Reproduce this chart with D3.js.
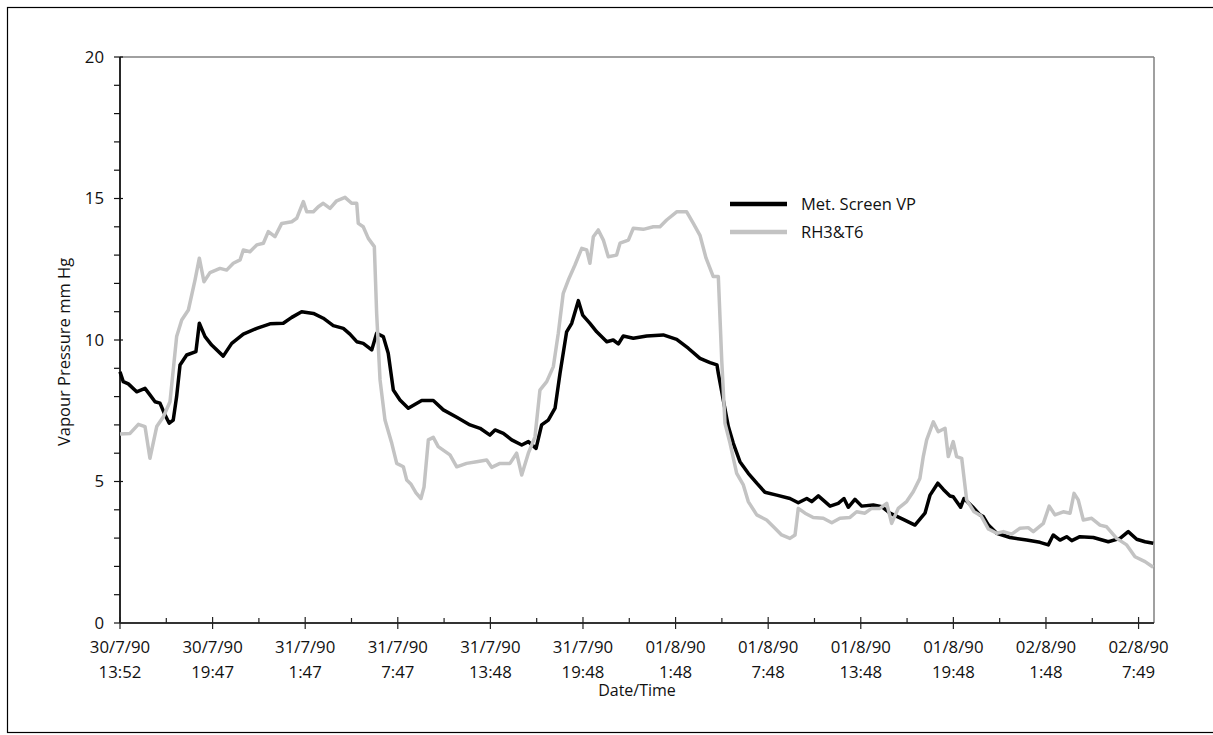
<!DOCTYPE html>
<html>
<head>
<meta charset="utf-8">
<script src="https://cdn.jsdelivr.net/npm/d3@7"></script>
<style>
  html, body { margin: 0; padding: 0; background: #fff; }
  svg { display: block; font-family: "Open Sans", "Noto Sans", sans-serif; }
</style>
</head>
<body>
<svg id="chart" width="1213" height="735"></svg>
<script>
// ---- Data (hours since 30/7/90 13:52, vapour pressure mm Hg) ----
const metHours = [0,0.21,0.54,1.08,1.62,1.94,2.27,2.59,2.92,3.19,3.45,3.67,3.89,4.32,4.92,5.14,5.51,5.94,6.69,7.24,7.99,8.86,9.72,10.58,11.13,11.77,12.53,13.17,13.82,14.47,14.90,15.34,15.76,16.31,16.63,17.06,17.38,17.71,18.14,18.68,19.55,20.30,20.95,21.82,22.68,23.33,23.97,24.30,24.84,25.38,26.03,26.46,26.96,27.32,27.75,28.19,28.51,28.94,29.27,29.70,29.98,30.45,30.89,31.54,31.96,32.29,32.61,33.26,34.13,35.20,36.07,36.82,37.58,38.23,38.68,38.77,39.09,39.42,39.74,40.17,40.71,41.26,41.79,42.55,43.41,43.95,44.50,44.82,45.25,46.01,46.54,46.91,47.19,47.62,48.06,48.81,49.36,49.89,50.75,51.51,52.16,52.49,52.99,53.35,53.78,53.99,54.47,54.69,55.24,55.72,55.94,56.27,56.81,57.67,58.75,59.61,60.15,60.47,60.91,61.34,61.67,62.20,63.07,64.04,64.80,65.33,65.88,66.42,66.95];
const metValues = [8.88,8.53,8.45,8.17,8.29,8.06,7.82,7.77,7.35,7.06,7.17,8.0,9.12,9.47,9.59,10.59,10.12,9.82,9.43,9.88,10.21,10.41,10.57,10.59,10.80,11.0,10.94,10.77,10.51,10.41,10.21,9.94,9.88,9.65,10.24,10.12,9.53,8.23,7.88,7.59,7.86,7.86,7.53,7.27,7.0,6.88,6.64,6.82,6.70,6.47,6.29,6.41,6.17,7.0,7.17,7.59,8.82,10.29,10.59,11.39,10.88,10.59,10.29,9.94,10.0,9.86,10.14,10.06,10.14,10.18,10.02,9.71,9.35,9.2,9.12,8.82,7.88,6.94,6.35,5.70,5.29,4.94,4.62,4.52,4.40,4.25,4.40,4.29,4.49,4.13,4.23,4.40,4.09,4.37,4.13,4.17,4.11,3.88,3.66,3.46,3.88,4.52,4.94,4.72,4.49,4.46,4.09,4.40,4.11,3.82,3.76,3.46,3.17,3.02,2.93,2.85,2.76,3.11,2.93,3.05,2.91,3.05,3.02,2.87,2.99,3.23,2.96,2.87,2.82];

const rhHours = [0,0.65,1.19,1.62,1.94,2.38,2.81,3.24,3.67,4.00,4.43,4.86,5.14,5.44,5.83,6.48,6.91,7.34,7.78,7.99,8.42,8.86,9.29,9.61,10.04,10.48,11.13,11.45,11.88,12.10,12.53,12.85,13.17,13.61,14.04,14.58,15.01,15.34,15.44,15.76,16.09,16.48,16.63,16.85,17.17,17.61,17.93,18.36,18.58,18.86,19.18,19.50,19.70,19.98,20.30,20.62,21.38,21.82,22.46,23.11,23.76,24.08,24.62,25.27,25.70,26.03,26.46,26.89,27.21,27.65,28.08,28.40,28.72,29.05,29.48,29.92,30.24,30.45,30.67,30.99,31.32,31.64,32.18,32.40,32.94,33.26,33.91,34.56,34.99,35.42,36.07,36.72,37.15,37.58,37.97,38.44,38.77,38.99,39.20,39.53,39.96,40.39,40.71,41.26,41.90,42.44,42.87,43.41,43.74,43.95,44.39,44.92,45.57,46.12,46.65,47.30,47.73,48.27,48.70,49.24,49.68,50.00,50.43,50.97,51.40,51.83,52.05,52.27,52.70,53.02,53.46,53.67,53.99,54.21,54.54,54.86,55.34,55.79,56.27,56.81,57.24,57.78,58.32,58.85,59.18,59.83,60.21,60.58,61.12,61.56,61.82,62.09,62.42,62.96,63.50,63.93,64.58,65.23,65.77,66.42,66.95];
const rhValues = [6.68,6.70,7.02,6.94,5.82,6.94,7.29,7.82,10.12,10.71,11.06,12.12,12.89,12.06,12.38,12.53,12.47,12.71,12.83,13.18,13.12,13.36,13.42,13.83,13.65,14.12,14.18,14.30,14.89,14.53,14.53,14.71,14.83,14.65,14.92,15.04,14.83,14.83,14.12,14.0,13.59,13.30,10.94,8.59,7.17,6.35,5.64,5.52,5.05,4.9,4.6,4.4,4.8,6.47,6.56,6.23,5.94,5.52,5.64,5.70,5.76,5.50,5.64,5.64,6.0,5.23,6.0,6.58,8.23,8.53,9.06,10.24,11.65,12.12,12.65,13.24,13.18,12.71,13.65,13.89,13.53,12.94,13.0,13.42,13.53,13.95,13.91,14.0,14.0,14.24,14.53,14.53,14.12,13.7,12.9,12.24,12.24,9.29,7.06,6.35,5.29,4.88,4.29,3.82,3.64,3.35,3.11,2.99,3.11,4.05,3.88,3.73,3.70,3.54,3.70,3.73,3.93,3.88,4.05,4.05,4.23,3.52,4.05,4.29,4.64,5.11,5.88,6.47,7.11,6.76,6.88,5.88,6.41,5.88,5.82,4.35,3.93,3.79,3.32,3.17,3.23,3.14,3.35,3.37,3.23,3.52,4.13,3.82,3.93,3.88,4.58,4.35,3.64,3.70,3.46,3.40,2.99,2.76,2.34,2.17,1.97];

const tickHours = [0,6,12,18,24,30,36,42,48,54,60,66];
const tickDates = ["30/7/90","30/7/90","31/7/90","31/7/90","31/7/90","31/7/90","01/8/90","01/8/90","01/8/90","01/8/90","02/8/90","02/8/90"];
const tickTimes = ["13:52","19:47","1:47","7:47","13:48","19:48","1:48","7:48","13:48","19:48","1:48","7:49"];
const yTicks = [0,5,10,15,20];
const seriesNames = ["Met. Screen VP","RH3&T6"];

// ---- Layout ----
const svg = d3.select("#chart");
const L = 120, R = 1154, T = 57, B = 623;
const x = d3.scaleLinear().domain([0, 67]).range([L, R]);
const y = d3.scaleLinear().domain([0, 20]).range([B, T]);
const FS = 16.8;

// outer border
svg.append("rect").attr("x", 7.5).attr("y", 7.5).attr("width", 1216).attr("height", 725)
  .attr("fill", "none").attr("stroke", "#000").attr("stroke-width", 1.2);

// frame top & right (gray)
svg.append("line").attr("x1", L).attr("x2", R).attr("y1", T).attr("y2", T)
  .attr("stroke", "#808080").attr("stroke-width", 1.5);
svg.append("line").attr("x1", R).attr("x2", R).attr("y1", T).attr("y2", B)
  .attr("stroke", "#808080").attr("stroke-width", 1.5);

// y axis
const yAxisG = svg.append("g");
yAxisG.append("line").attr("x1", L).attr("x2", L).attr("y1", T).attr("y2", B)
  .attr("stroke", "#111").attr("stroke-width", 1.8);
d3.range(0, 21, 1).forEach(v => {
  const major = v % 5 === 0;
  yAxisG.append("line").attr("x1", L - 6).attr("x2", major ? L + 3 : L)
    .attr("y1", y(v)).attr("y2", y(v)).attr("stroke", "#111").attr("stroke-width", 1.2);
});
yAxisG.selectAll("text.yt").data(yTicks).join("text")
  .attr("x", L - 16).attr("y", d => y(d)).attr("dy", "0.35em")
  .attr("text-anchor", "end").attr("font-size", FS).attr("fill", "#111")
  .text(d => d);

// x axis
const xAxisG = svg.append("g");
xAxisG.append("line").attr("x1", L).attr("x2", R).attr("y1", B).attr("y2", B)
  .attr("stroke", "#333").attr("stroke-width", 2);
tickHours.forEach(h => {
  xAxisG.append("line").attr("x1", x(h)).attr("x2", x(h)).attr("y1", B - 6).attr("y2", B + 6)
    .attr("stroke", "#222").attr("stroke-width", 1.2);
});
tickHours.slice(0, -1).forEach(h => {
  xAxisG.append("line").attr("x1", x(h + 3)).attr("x2", x(h + 3)).attr("y1", B - 5).attr("y2", B)
    .attr("stroke", "#222").attr("stroke-width", 1.2);
});
const xl = xAxisG.selectAll("text.xt").data(tickHours).join("text")
  .attr("text-anchor", "middle").attr("font-size", FS).attr("fill", "#111");
xl.append("tspan").attr("x", d => x(d)).attr("y", 653).text((d, i) => tickDates[i]);
xl.append("tspan").attr("x", d => x(d)).attr("y", 678).text((d, i) => tickTimes[i]);

// axis titles
svg.append("text").attr("x", 637).attr("y", 696).attr("text-anchor", "middle")
  .attr("font-size", 16).attr("fill", "#111").text("Date/Time");
svg.append("text").attr("transform", `translate(70,352) rotate(-90)`)
  .attr("text-anchor", "middle").attr("font-size", 16.5).attr("fill", "#111")
  .text("Vapour Pressure mm Hg");

// series
const line = d3.line().x(d => x(d[0])).y(d => y(d[1]));
const metData = metHours.map((h, i) => [h, metValues[i]]);
const rhData = rhHours.map((h, i) => [h, rhValues[i]]);
svg.append("path").datum(metData).attr("d", line).attr("fill", "none")
  .attr("stroke", "#000").attr("stroke-width", 3.5).attr("stroke-linejoin", "round");
svg.append("path").datum(rhData).attr("d", line).attr("fill", "none")
  .attr("stroke", "#c3c3c3").attr("stroke-width", 3.5).attr("stroke-linejoin", "round");

// legend
const lg = svg.append("g");
const legendColors = ["#000", "#c3c3c3"];
seriesNames.forEach((name, i) => {
  const ly = 204 + i * 28;
  lg.append("line").attr("x1", 730).attr("x2", 787).attr("y1", ly).attr("y2", ly)
    .attr("stroke", legendColors[i]).attr("stroke-width", 4.5);
  lg.append("text").attr("x", 801).attr("y", ly).attr("dy", "0.35em")
    .attr("font-size", 16.5).attr("fill", "#111").text(name);
});
</script>
</body>
</html>
